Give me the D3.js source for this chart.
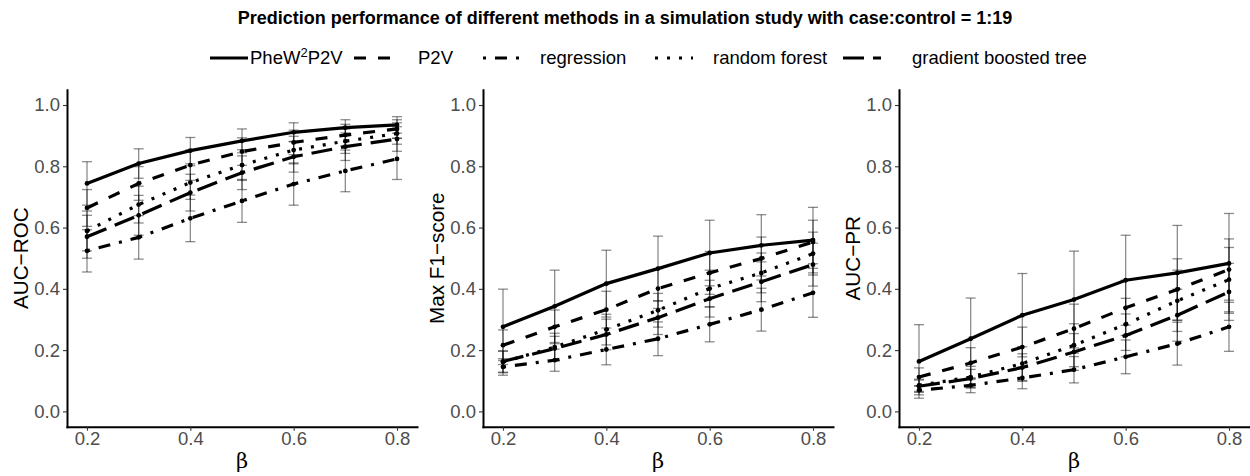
<!DOCTYPE html>
<html>
<head>
<meta charset="utf-8">
<script src="https://cdn.jsdelivr.net/npm/d3@7"></script>
<style>
  body { margin: 0; background: #fff; }
  text { font-family: "Liberation Sans", Arial, sans-serif; }
</style>
</head>
<body>
<svg id="chart" width="1250" height="476"></svg>
<script>
// x values (beta) and methods
const betas = [0.2, 0.3, 0.4, 0.5, 0.6, 0.7, 0.8];
const methods = ["PheW2P2V", "P2V", "regression", "random forest", "gradient boosted tree"];
const dashes = ["none", "12,12", "3,9,12,9", "3,9", "21,9"];

// AUC-ROC, one row per method (same order as methods)
const rocMean = [
  [0.744, 0.809, 0.851, 0.883, 0.911, 0.926, 0.935],
  [0.664, 0.744, 0.804, 0.848, 0.878, 0.902, 0.922],
  [0.524, 0.568, 0.630, 0.687, 0.742, 0.785, 0.824],
  [0.589, 0.675, 0.747, 0.804, 0.853, 0.882, 0.907],
  [0.570, 0.640, 0.714, 0.779, 0.831, 0.864, 0.889]
];
const rocSd = [
  [0.071, 0.048, 0.043, 0.039, 0.031, 0.026, 0.027],
  [0.060, 0.055, 0.050, 0.045, 0.040, 0.035, 0.030],
  [0.069, 0.071, 0.076, 0.070, 0.069, 0.068, 0.067],
  [0.065, 0.060, 0.055, 0.050, 0.045, 0.040, 0.035],
  [0.070, 0.065, 0.060, 0.055, 0.050, 0.045, 0.040]
];

// Max F1-score
const f1Mean = [
  [0.276, 0.343, 0.417, 0.466, 0.517, 0.542, 0.559],
  [0.216, 0.276, 0.332, 0.401, 0.452, 0.499, 0.553],
  [0.145, 0.167, 0.202, 0.237, 0.284, 0.332, 0.387],
  [0.161, 0.210, 0.267, 0.330, 0.401, 0.452, 0.515],
  [0.163, 0.205, 0.251, 0.306, 0.368, 0.423, 0.479]
];
const f1Sd = [
  [0.123, 0.118, 0.109, 0.106, 0.107, 0.100, 0.107],
  [0.050, 0.055, 0.060, 0.065, 0.070, 0.070, 0.071],
  [0.027, 0.036, 0.050, 0.055, 0.057, 0.070, 0.080],
  [0.035, 0.045, 0.050, 0.055, 0.060, 0.065, 0.070],
  [0.035, 0.040, 0.050, 0.055, 0.060, 0.065, 0.070]
];

// AUC-PR
const prMean = [
  [0.163, 0.237, 0.314, 0.365, 0.428, 0.452, 0.483],
  [0.112, 0.158, 0.210, 0.270, 0.338, 0.398, 0.463],
  [0.069, 0.085, 0.109, 0.136, 0.178, 0.221, 0.276],
  [0.085, 0.112, 0.156, 0.216, 0.284, 0.361, 0.430],
  [0.082, 0.107, 0.143, 0.194, 0.248, 0.314, 0.390]
];
const prSd = [
  [0.120, 0.133, 0.136, 0.158, 0.147, 0.155, 0.163],
  [0.030, 0.050, 0.065, 0.080, 0.090, 0.100, 0.100],
  [0.015, 0.024, 0.035, 0.043, 0.055, 0.070, 0.080],
  [0.020, 0.035, 0.055, 0.070, 0.085, 0.100, 0.105],
  [0.020, 0.030, 0.045, 0.060, 0.070, 0.085, 0.093]
];

const yTicks = [0, 0.2, 0.4, 0.6, 0.8, 1.0];
const xTicks = [0.2, 0.4, 0.6, 0.8];

const panels = [
  { title: "AUC\u2212ROC", mean: rocMean, sd: rocSd },
  { title: "Max F1\u2212score", mean: f1Mean, sd: f1Sd },
  { title: "AUC\u2212PR", mean: prMean, sd: prSd }
];

const svg = d3.select("#chart");

// Title
svg.append("text")
  .attr("x", 625)
  .attr("y", 24)
  .attr("text-anchor", "middle")
  .style("font-size", "18px")
  .style("font-weight", "bold")
  .text("Prediction performance of different methods in a simulation study with case:control = 1:19");

// Legend
const keyX = [210, 354, 483, 655, 843];
const labelX = [250, 418, 540, 713, 912];
const legend = svg.append("g");
methods.forEach((m, i) => {
  legend.append("line")
    .attr("x1", keyX[i]).attr("x2", keyX[i] + 38)
    .attr("y1", 58).attr("y2", 58)
    .attr("stroke", "#000")
    .attr("stroke-width", 3.2)
    .attr("stroke-dasharray", dashes[i]);
  const t = legend.append("text")
    .attr("x", labelX[i])
    .attr("y", 64)
    .style("font-size", "18.5px")
    .attr("fill", "#000");
  if (i === 0) {
    t.append("tspan").text("PheW");
    t.append("tspan").attr("dy", -7).style("font-size", "13px").text("2");
    t.append("tspan").attr("dy", 7).text("P2V");
  } else {
    t.text(m);
  }
});

// Panels
const panelLeft = [67, 483, 899];
const panelW = 350;
const plotTop = 89.7, plotBottom = 426.7;
const pad = 0.6 * 20 / 310;

const y = d3.scaleLinear().domain([-0.05, 1.05]).range([plotBottom, plotTop]);

panels.forEach((p, pi) => {
  const left = panelLeft[pi];
  const x = d3.scaleLinear().domain([0.2 - pad, 0.8 + pad]).range([left, left + panelW]);
  const g = svg.append("g");

  // error bars
  p.mean.forEach((row, mi) => {
    row.forEach((v, k) => {
      const s = p.sd[mi][k];
      const cx = x(betas[k]);
      const eb = g.append("g")
        .attr("stroke", "#000")
        .attr("stroke-opacity", 0.45)
        .attr("stroke-width", 1.3);
      eb.append("line").attr("x1", cx).attr("x2", cx).attr("y1", y(v - s)).attr("y2", y(v + s));
      eb.append("line").attr("x1", cx - 5).attr("x2", cx + 5).attr("y1", y(v - s)).attr("y2", y(v - s));
      eb.append("line").attr("x1", cx - 5).attr("x2", cx + 5).attr("y1", y(v + s)).attr("y2", y(v + s));
    });
  });

  // lines
  const line = d3.line()
    .x((d, k) => x(betas[k]))
    .y((d) => y(d));
  p.mean.forEach((row, mi) => {
    g.append("path")
      .datum(row)
      .attr("fill", "none")
      .attr("stroke", "#000")
      .attr("stroke-width", 3.2)
      .attr("stroke-dasharray", dashes[mi])
      .attr("d", line);
  });

  // points
  p.mean.forEach((row) => {
    row.forEach((v, k) => {
      g.append("circle")
        .attr("cx", x(betas[k]))
        .attr("cy", y(v))
        .attr("r", 2.4)
        .attr("fill", "#000");
    });
  });

  // axes
  const ax = g.append("g")
    .attr("transform", `translate(0,${plotBottom})`)
    .call(d3.axisBottom(x).tickValues(xTicks).tickSize(4).tickSizeOuter(0).tickPadding(1).tickFormat(d3.format(".1f")));
  const ay = g.append("g")
    .attr("transform", `translate(${left},0)`)
    .call(d3.axisLeft(y).tickValues(yTicks).tickSize(4).tickSizeOuter(0).tickPadding(3).tickFormat(d3.format(".1f")));
  [ax, ay].forEach((a) => {
    a.select(".domain").attr("stroke", "#000").attr("stroke-width", 2).attr("stroke-linecap", "square");
    a.selectAll(".tick line").attr("stroke", "#333").attr("stroke-width", 1.1);
    a.selectAll(".tick text")
      .attr("fill", "#4D4D4D")
      .style("font-size", "18.5px")
      .style("font-family", '"Liberation Sans", Arial, sans-serif');
  });

  // axis titles
  g.append("text")
    .attr("transform", `translate(${left - 39},${(plotTop + plotBottom) / 2}) rotate(-90)`)
    .attr("text-anchor", "middle")
    .style("font-size", "20.7px")
    .text(p.title);

  g.append("text")
    .attr("x", x(0.5))
    .attr("y", 468)
    .attr("text-anchor", "middle")
    .style("font-size", "21px")
    .style("font-family", '"DejaVu Serif", "Liberation Serif", serif')
    .text("\u03b2");
});
</script>
</body>
</html>
